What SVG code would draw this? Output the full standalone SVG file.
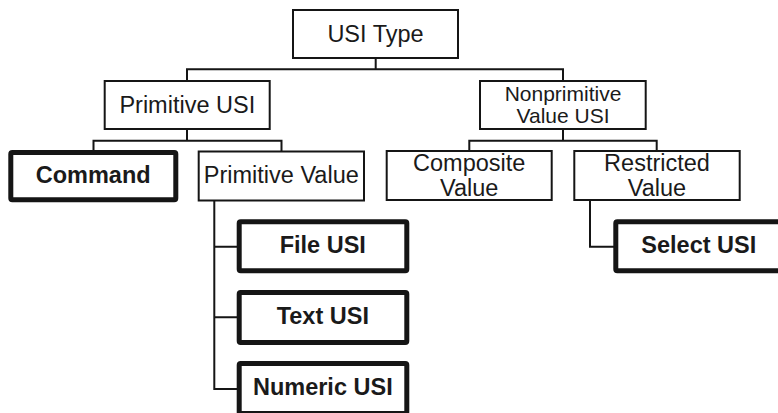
<svg xmlns="http://www.w3.org/2000/svg" width="778" height="413" viewBox="0 0 778 413">
<style>
.n,.b{fill:#fff;stroke:#151515}
.n{stroke-width:2}
.b{stroke-width:5;stroke-linejoin:round}
text{font-family:"Liberation Sans",Arial,sans-serif;font-size:23.5px;fill:#1a1a1a;text-anchor:middle}
.s{font-size:21px}
.bt{font-weight:bold}
#connectors path{fill:none;stroke:#151515;stroke-width:2}
</style>
<rect width="778" height="413" fill="#fff"/>
<g id="connectors">
<path d="M375.7 59 V69.3 M187 80 V69.3 H563 V80"/>
<path d="M187 130 V140.7 M93.5 150 V140.7 H281.5 V151"/>
<path d="M563 130 V140.7 M469.3 151 V140.7 H656.7 V151"/>
<path d="M214.3 201 V389 H237 M214.3 246.7 H237 M214.3 317.3 H237"/>
<path d="M590 201 V246.7 H614"/>
</g>
<g id="usi-type"><rect class="n" x="293" y="10" width="165" height="48"/><text x="375.5" y="41.7">USI Type</text></g>
<g id="primitive-usi"><rect class="n" x="104.7" y="81" width="165" height="48"/><text x="187.3" y="112.7">Primitive USI</text></g>
<g id="nonprimitive"><rect class="n" x="480" y="81" width="165.7" height="48"/><text class="s" x="563" y="101">Nonprimitive</text><text class="s" x="563" y="122.7">Value USI</text></g>
<g id="command"><rect class="b" x="10.8" y="152.5" width="165" height="47.3" rx="1.5"/><text class="bt" x="93.2" y="182.7">Command</text></g>
<g id="primitive-value"><rect class="n" x="198.7" y="151.5" width="165.3" height="49"/><text x="281.3" y="182.7">Primitive Value</text></g>
<g id="composite"><rect class="n" x="386.7" y="151" width="165" height="49"/><text x="469.2" y="170.5">Composite</text><text x="469.2" y="195.5">Value</text></g>
<g id="restricted"><rect class="n" x="574.3" y="151" width="165.4" height="49"/><text x="657" y="170.5">Restricted</text><text x="657" y="195.5">Value</text></g>
<g id="file-usi"><rect class="b" x="239.2" y="221.8" width="167.6" height="49" rx="1.5"/><text class="bt" x="322.8" y="253.3">File USI</text></g>
<g id="text-usi"><rect class="b" x="239.2" y="292.5" width="167.6" height="50" rx="1.5"/><text class="bt" x="322.8" y="324.3">Text USI</text></g>
<g id="numeric-usi"><rect class="b" x="239.2" y="363.5" width="167.6" height="50" rx="1.5"/><text class="bt" x="322.8" y="395">Numeric USI</text></g>
<g id="select-usi"><rect class="b" x="615.8" y="221.8" width="167.6" height="49" rx="1.5"/><text class="bt" x="698.8" y="253.3">Select USI</text></g>
</svg>
